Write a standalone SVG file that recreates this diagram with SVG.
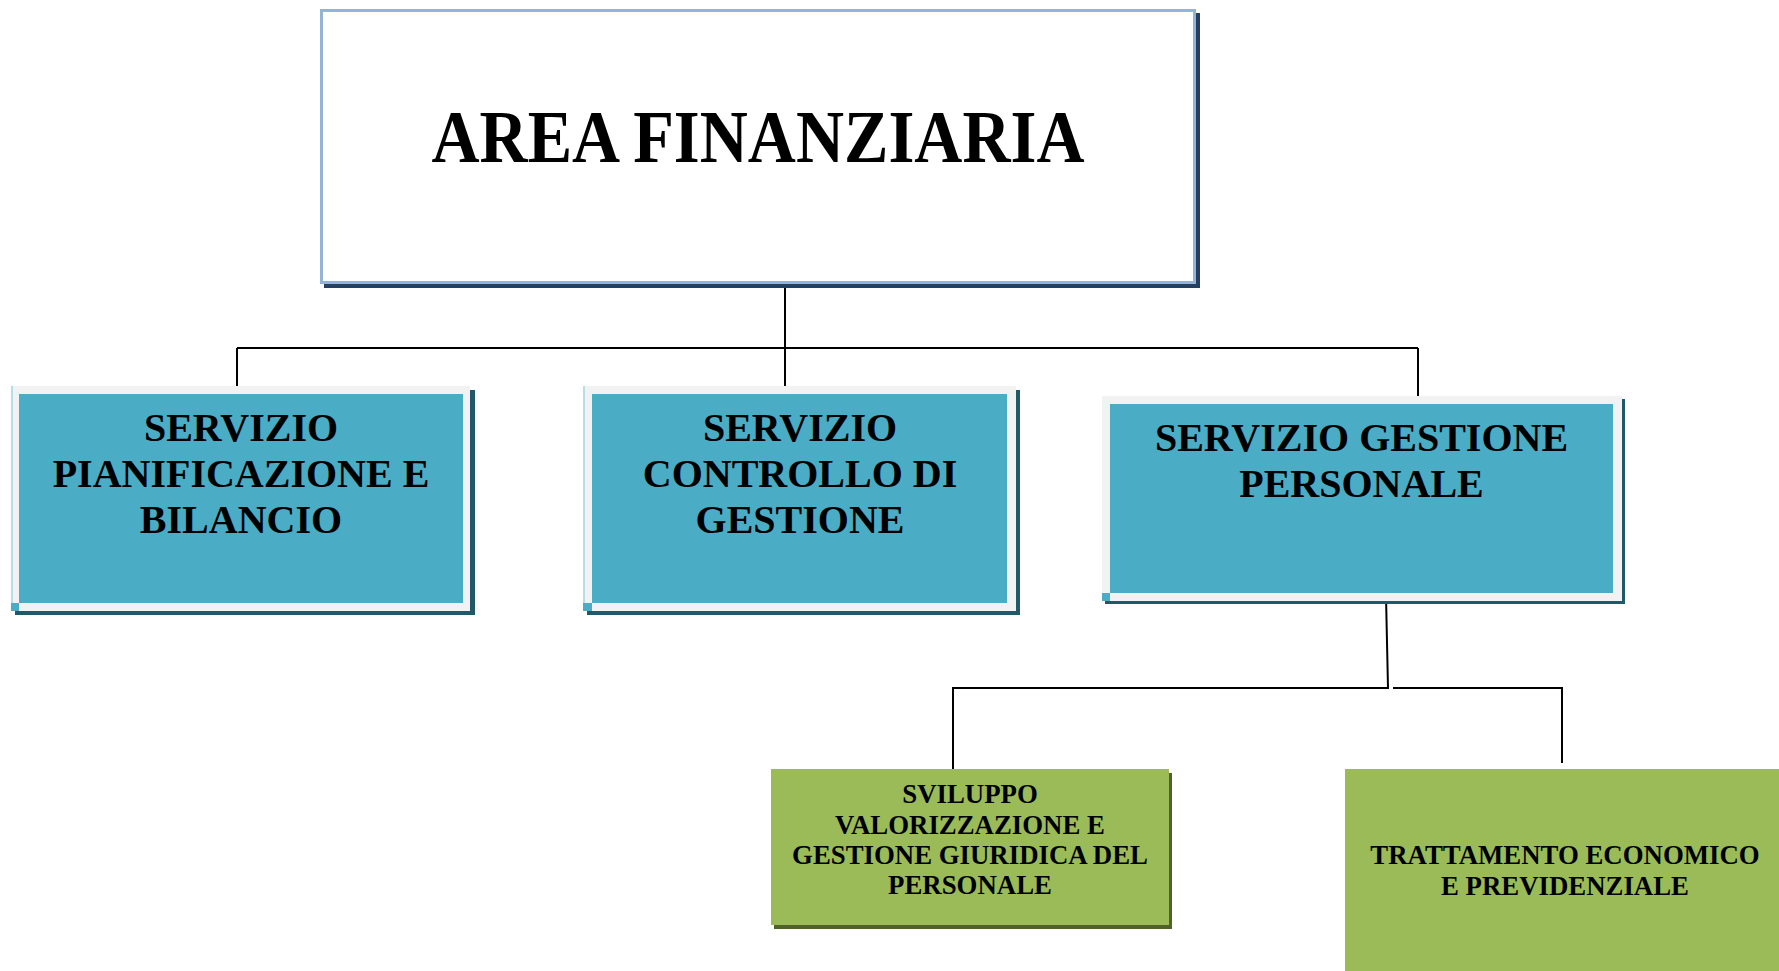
<svg xmlns="http://www.w3.org/2000/svg" width="1779" height="971" viewBox="0 0 1779 971">
<style>
.t{font-family:"Liberation Serif","Times New Roman",serif;font-weight:bold;fill:#000;text-anchor:middle}
.big{font-size:40px}
.sm{font-size:26.8px}
.shB{fill:#215968}
.bev{fill:#f2f2f2}
.blue{fill:#4bacc6}
.shG{fill:#4f6228}
.green{fill:#9bbb59}
.conn{fill:none;stroke:#000;stroke-width:2}
</style>
<rect width="1779" height="971" fill="#fff"/>
<g id="connectors">
<path class="conn" d="M785,284 V394"/>
<path class="conn" d="M237,348 H1418"/>
<path class="conn" d="M237,348 V394"/>
<path class="conn" d="M1418,348 V404"/>
<path class="conn" d="M1386,596 L1388,688 H953 V769"/>
<path class="conn" d="M1393,688 H1562 V763"/>
</g>
<g id="area-finanziaria">
<rect x="324" y="13" width="876" height="275" fill="#243f60"/>
<rect x="321.5" y="10.5" width="873" height="272" fill="#fff" stroke="#95b3d7" stroke-width="3"/>
<text class="t" x="758" y="162" font-size="74" textLength="653" lengthAdjust="spacingAndGlyphs">AREA FINANZIARIA</text>
</g>
<g id="servizio-pianificazione">
<rect class="shB" x="15" y="390" width="460" height="225"/>
<rect class="bev" x="11" y="386" width="459" height="225"/>
<rect x="11" y="386" width="2" height="225" fill="#b7dde8"/>
<rect class="blue" x="11" y="603" width="8" height="8"/>
<rect class="blue" x="19" y="394" width="444" height="209"/>
<text class="t big" x="241" y="441">SERVIZIO</text>
<text class="t big" x="241" y="487">PIANIFICAZIONE E</text>
<text class="t big" x="241" y="533">BILANCIO</text>
</g>
<g id="servizio-controllo">
<rect class="shB" x="587" y="390" width="433" height="225"/>
<rect class="bev" x="583" y="386" width="433" height="225"/>
<rect x="583" y="386" width="2" height="225" fill="#b7dde8"/>
<rect class="blue" x="583" y="603" width="9" height="8"/>
<rect class="blue" x="592" y="394" width="415" height="209"/>
<text class="t big" x="800" y="441">SERVIZIO</text>
<text class="t big" x="800" y="487">CONTROLLO DI</text>
<text class="t big" x="800" y="533">GESTIONE</text>
</g>
<g id="servizio-gestione-personale">
<rect class="shB" x="1105" y="399" width="520" height="205"/>
<rect class="bev" x="1102" y="396" width="520" height="205"/>
<rect class="blue" x="1102" y="593" width="8" height="8"/>
<rect class="blue" x="1110" y="404" width="503" height="189"/>
<text class="t big" x="1361.5" y="451">SERVIZIO GESTIONE</text>
<text class="t big" x="1361.5" y="497">PERSONALE</text>
</g>
<g id="sviluppo-valorizzazione">
<rect class="shG" x="774" y="773" width="398" height="156"/>
<rect class="green" x="771" y="769" width="398" height="156"/>
<text class="t sm" x="970" y="803">SVILUPPO</text>
<text class="t sm" x="970" y="834">VALORIZZAZIONE E</text>
<text class="t sm" x="970" y="864">GESTIONE GIURIDICA DEL</text>
<text class="t sm" x="970" y="894">PERSONALE</text>
</g>
<g id="trattamento-economico">
<rect class="green" x="1345" y="769" width="440" height="210"/>
<text class="t sm" x="1565" y="864">TRATTAMENTO ECONOMICO</text>
<text class="t sm" x="1565" y="895">E PREVIDENZIALE</text>
</g>
</svg>
